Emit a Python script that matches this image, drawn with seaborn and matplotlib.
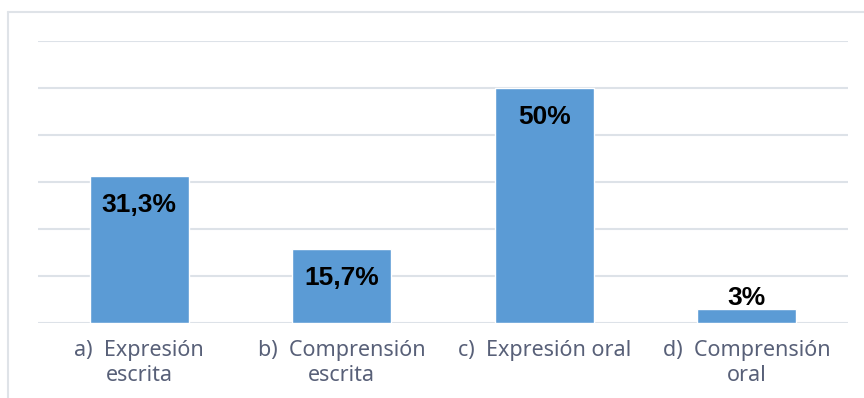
import matplotlib
matplotlib.use('Agg')
import matplotlib.pyplot as plt
from matplotlib.lines import Line2D
import seaborn as sns
import pandas as pd

# chart data
categories = ['a)  Expresión\nescrita', 'b)  Comprensión\nescrita',
              'c)  Expresión oral', 'd)  Comprensión\noral']
values = [31.3, 15.7, 50, 3]
value_labels = ['31,3%', '15,7%', '50%', '3%']

BAR_COLOR = '#5b9bd5'
GRID_COLOR = '#dde2e8'
TEXT_COLOR = '#586078'

sns.set_theme(style='white')
plt.rcParams['font.family'] = ['Noto Sans', 'DejaVu Sans']

df = pd.DataFrame({'categoria': categories, 'valor': values})

fig = plt.figure(figsize=(8.64, 3.98), dpi=100)
ax = fig.add_axes([38 / 864, 75 / 398, 810 / 864, 282 / 398])

sns.barplot(data=df, x='categoria', y='valor', color=BAR_COLOR,
            width=0.49, saturation=1, ax=ax, zorder=3)

ax.set_ylim(0, 60)
ax.set_xlim(-0.5, 3.5)
ax.set_yticks(range(0, 61, 10))
ax.yaxis.grid(True, color=GRID_COLOR, linewidth=1.5, zorder=0)
ax.set_yticklabels([])
ax.tick_params(axis='y', length=0)
ax.tick_params(axis='x', length=0, pad=12.5, labelsize=15.5, labelcolor=TEXT_COLOR)
for lbl in ax.get_xticklabels():
    lbl.set_linespacing(1.25)
ax.set_xlabel('')
ax.set_ylabel('')
for side in ['top', 'right', 'left', 'bottom']:
    ax.spines[side].set_visible(False)

# value labels: inside top of bar, or above when the bar is short
for i, (v, txt) in enumerate(zip(values, value_labels)):
    off = -21 if v > 8 else 8
    ax.annotate(txt, xy=(i, v), xytext=(0, off), textcoords='offset points',
                ha='center', va='center', fontsize=19, fontweight='bold',
                color='black', family=['Liberation Sans', 'DejaVu Sans'], zorder=4)

# light frame around the chart area
fig.add_artist(Line2D([8 / 864, 1], [1 - 12 / 398, 1 - 12 / 398],
                      color='#dfe3e8', linewidth=1.5))
fig.add_artist(Line2D([8 / 864, 8 / 864], [0, 1 - 12 / 398],
                      color='#dfe3e8', linewidth=1.5))

fig.savefig('out.png', dpi=100, facecolor='white')
